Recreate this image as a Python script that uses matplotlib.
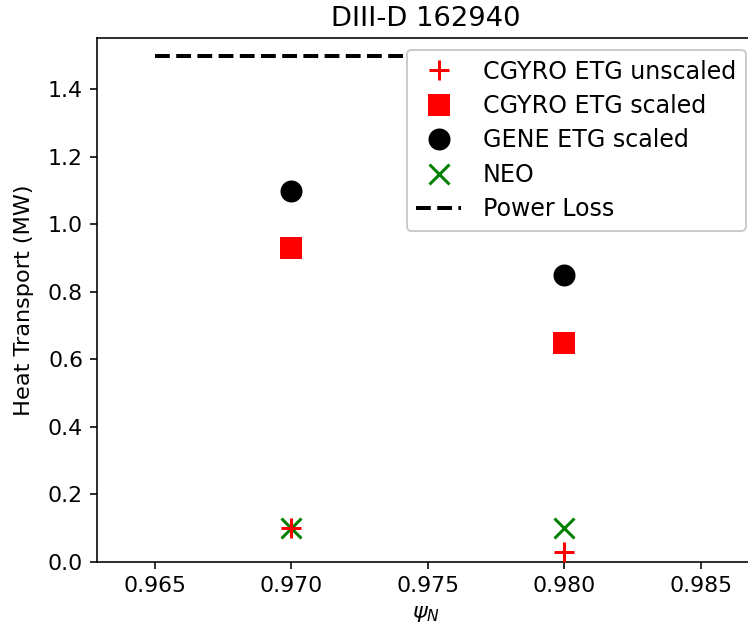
import matplotlib
matplotlib.use("Agg")
import matplotlib.pyplot as plt

psi = [0.970, 0.980]
cgyro_unscaled = [0.10, 0.03]
cgyro_scaled = [0.93, 0.65]
gene_scaled = [1.10, 0.85]
neo = [0.10, 0.10]
loss_x = [0.965, 0.985]
loss_y = [1.5, 1.5]
xticks = [0.965, 0.970, 0.975, 0.980, 0.985]
yticks = [0.0, 0.2, 0.4, 0.6, 0.8, 1.0, 1.2, 1.4]

plt.rcParams['font.size'] = 11.2

W, H = 748, 638
dpi = 144
fig = plt.figure(figsize=(W / dpi, H / dpi), dpi=dpi)
ax = fig.add_axes([97 / W, 1 - 562 / H, 658 / W, (562 - 38.3) / H])

ax.plot(psi, cgyro_unscaled, '+', color='red', ms=10, mew=1.5, label='CGYRO ETG unscaled', zorder=3)
ax.plot(psi, cgyro_scaled, 's', color='red', ms=10, label='CGYRO ETG scaled')
ax.plot(psi, gene_scaled, 'o', color='black', ms=10, label='GENE ETG scaled')
ax.plot(psi, neo, 'x', color='green', ms=10, mew=1.5, label='NEO', zorder=2)
ax.plot(loss_x, loss_y, '--', color='black', lw=2, label='Power Loss')

ax.set_xlim(0.96288, 0.98698)
ax.set_ylim(0, 1.551)
ax.set_xticks(xticks)
ax.set_xticklabels([f"{t:.3f}" for t in xticks], fontsize=11)
ax.set_yticks(yticks)
ax.set_yticklabels([f"{t:.1f}" for t in yticks], fontsize=11)
ax.set_xlabel(r'$\psi_N$', fontsize=11.2)
ax.set_ylabel('Heat Transport (MW)', fontsize=11.2, labelpad=7)
ax.set_title('DIII-D 162940', fontsize=13.7)
ax.legend(loc='upper right', fontsize=11.9, framealpha=1, labelspacing=0.44,
          handlelength=1.9, handletextpad=0.9, borderaxespad=0,
          bbox_to_anchor=(745.5 / W, 1 - 50 / H), bbox_transform=fig.transFigure)

fig.savefig('out.png', dpi=dpi)
